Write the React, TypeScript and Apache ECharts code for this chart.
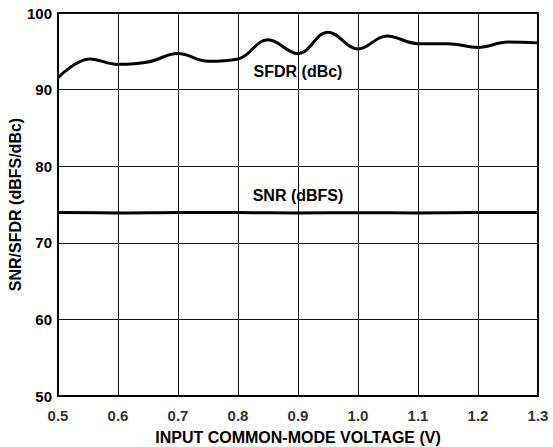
import React, { useEffect, useRef } from "react";
import * as echarts from "echarts";

const sfdrX = [0.5, 0.553, 0.6, 0.65, 0.7, 0.75, 0.8, 0.85, 0.9, 0.95, 1.0, 1.048, 1.1, 1.15, 1.2, 1.25, 1.3];
const sfdrY = [91.55, 94.0, 93.3, 93.6, 94.7, 93.7, 94.0, 96.5, 94.7, 97.5, 95.3, 97.0, 96.0, 96.0, 95.5, 96.2, 96.1];
const snrX = [0.5, 0.6, 0.7, 0.8, 0.9, 1.0, 1.1, 1.2, 1.3];
const snrY = [73.95, 73.9, 73.97, 73.95, 73.9, 73.92, 73.9, 73.95, 73.97];
const xName = "INPUT COMMON-MODE VOLTAGE (V)";
const yName = "SNR/SFDR (dBFS/dBc)";
const sfdrLabel = "SFDR (dBc)";
const snrLabel = "SNR (dBFS)";

export default function App() {
  const ref = useRef<HTMLDivElement>(null);
  useEffect(() => {
    const chart = echarts.init(ref.current!, null, { renderer: "svg" });
    const font = "Liberation Sans, Arial, sans-serif";
    const labelStyle = { fontFamily: font, fontWeight: "bold" as const, fontSize: 16, color: "#000" };
    chart.setOption({
      animation: false,
      backgroundColor: "#fff",
      grid: {
        left: 58, right: 15, top: 13, bottom: 51,
        containLabel: false, outerBoundsMode: "none",
        show: true, borderColor: "#000", borderWidth: 2, backgroundColor: "transparent",
      },
      xAxis: {
        type: "value",
        min: 0.5,
        max: 1.3,
        interval: 0.1,
        name: xName,
        nameLocation: "middle",
        nameGap: 33,
        nameMoveOverlap: false,
        nameTextStyle: { ...labelStyle },
        axisLine: { show: true, lineStyle: { color: "#000", width: 2 } },
        axisTick: { show: false },
        axisLabel: { ...labelStyle, fontSize: 15, color: "#333", margin: 12, formatter: (v: number) => v.toFixed(1) },
        splitLine: { show: true, lineStyle: { color: "#111", width: 1 } },
      },
      yAxis: {
        type: "value",
        min: 50,
        max: 100,
        interval: 10,
        name: yName,
        nameLocation: "middle",
        nameGap: 35,
        nameMoveOverlap: false,
        nameTextStyle: { ...labelStyle },
        axisLine: { show: true, lineStyle: { color: "#000", width: 2 } },
        axisTick: { show: false },
        axisLabel: { ...labelStyle, fontSize: 15, margin: 6 },
        splitLine: { show: true, lineStyle: { color: "#111", width: 1 } },
      },
      series: [
        {
          type: "line",
          data: sfdrX.map((x, i) => [x, sfdrY[i]]),
          smooth: 0.4,
          symbol: "none",
          lineStyle: { color: "#000", width: 3 },
          markPoint: {
            symbol: "circle",
            symbolSize: 0,
            data: [{ coord: [0.9, 92.3], value: sfdrLabel }],
            label: { show: true, position: "inside", formatter: sfdrLabel, ...labelStyle },
          },
        },
        {
          type: "line",
          data: snrX.map((x, i) => [x, snrY[i]]),
          smooth: 0.4,
          symbol: "none",
          lineStyle: { color: "#000", width: 3 },
          markPoint: {
            symbol: "circle",
            symbolSize: 0,
            data: [{ coord: [0.9, 76.24], value: snrLabel }],
            label: { show: true, position: "inside", formatter: snrLabel, ...labelStyle },
          },
        },
      ],
    });
    return () => chart.dispose();
  }, []);
  return <div ref={ref} style={{ width: 553, height: 447, position: "absolute", left: 0, top: 0 }} />;
}
